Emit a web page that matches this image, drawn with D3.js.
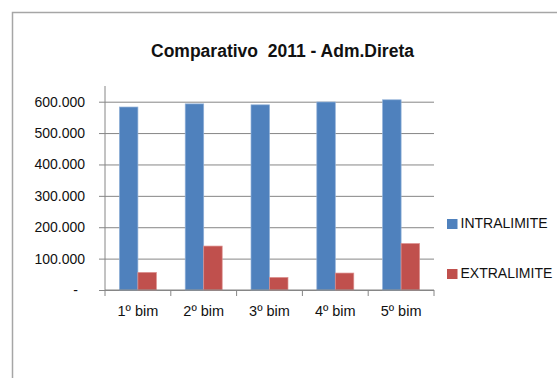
<!DOCTYPE html>
<head>
  <meta charset="utf-8">
  <script src="https://d3js.org/d3.v7.min.js"></script>
  <style>
    body { margin: 0; background: #fff; }
    svg { width: 557px; height: 378px; display: block; }
    text { font-family: "Liberation Sans", Arial, sans-serif; fill: #111; white-space: pre; }
  </style>
</head>
<body>
  <svg></svg>
  <script>
    // data
    var bimestres = ['1º bim', '2º bim', '3º bim', '4º bim', '5º bim'];
    var series = ['INTRALIMITE', 'EXTRALIMITE'];
    var intralimite = [583000, 593000, 590000, 599000, 606000];
    var extralimite = [56000, 140000, 40000, 54000, 148000];
    var yTicks = [0, 100000, 200000, 300000, 400000, 500000, 600000];
    var colors = ['#4F81BD', '#C0504D'];
    var edges = ['#8fb0d8', '#dc8f8d'];

    var svg = d3.select('svg');

    // outer chart border (runs off the right and bottom edges)
    svg.append('path')
      .attr('d', 'M12.5,600 L12.5,12.5 L600,12.5')
      .attr('fill', 'none')
      .attr('stroke', '#a6a6a6')
      .attr('stroke-width', 1.5);

    svg.append('text')
      .attr('x', 282.5)
      .attr('y', 56.5)
      .attr('text-anchor', 'middle')
      .style('font-weight', 'bold')
      .style('font-size', '17.5px')
      .text('Comparativo  2011 - Adm.Direta');

    var plotL = 105, plotR = 434, plotT = 86, plotB = 290;

    var x = d3.scaleBand().domain(bimestres).range([plotL, plotR]);
    var xs = d3.scaleBand().domain(series).range([0, x.bandwidth()]).paddingOuter(0.78);
    var y = d3.scaleLinear().domain([0, 650000]).range([plotB, plotT]);

    // gridlines + y labels
    var yAxis = d3.axisLeft(y)
      .tickValues(yTicks)
      .tickSize(-(plotR - plotL))
      .tickPadding(20)
      .tickFormat(function(d) {
        return d === 0 ? '-' : d3.format(',')(d).replace(/,/g, '.');
      });
    var gy = svg.append('g')
      .attr('transform', 'translate(' + plotL + ',0)')
      .call(yAxis);
    gy.select('.domain').remove();
    gy.selectAll('.tick line').attr('stroke', '#868686').attr('x1', -6);
    gy.selectAll('.tick text')
      .style('font-size', '14px')
      .attr('fill', '#111')
      .attr('x', function(d) { return d === 0 ? -27 : -20; });

    // y axis line
    svg.append('line')
      .attr('x1', plotL).attr('x2', plotL)
      .attr('y1', plotT).attr('y2', plotB)
      .attr('stroke', '#868686');

    // bars
    var groups = svg.selectAll('g.grp')
      .data(bimestres).enter().append('g')
      .attr('class', 'grp')
      .attr('transform', function(d) { return 'translate(' + x(d) + ',0)'; });

    groups.selectAll('rect')
      .data(function(d, i) {
        return [
          { s: series[0], v: intralimite[i], c: colors[0], e: edges[0] },
          { s: series[1], v: extralimite[i], c: colors[1], e: edges[1] }
        ];
      }).enter().append('rect')
      .attr('x', function(d) { return xs(d.s); })
      .attr('width', xs.bandwidth())
      .attr('y', function(d) { return y(d.v); })
      .attr('height', function(d) { return plotB - y(d.v); })
      .attr('fill', function(d) { return d.c; })
      .attr('stroke', function(d) { return d.e; })
      .attr('stroke-width', 0.7);

    // x axis baseline and ticks at category boundaries
    svg.append('line')
      .attr('x1', plotL).attr('x2', plotR)
      .attr('y1', plotB).attr('y2', plotB)
      .attr('stroke', '#868686');
    var boundaries = bimestres.map(function(d) { return x(d); }).concat([plotR]);
    svg.selectAll('line.xtick')
      .data(boundaries).enter().append('line')
      .attr('class', 'xtick')
      .attr('x1', function(d) { return d; }).attr('x2', function(d) { return d; })
      .attr('y1', plotB).attr('y2', plotB + 6)
      .attr('stroke', '#868686');

    svg.selectAll('text.xlab')
      .data(bimestres).enter().append('text')
      .attr('class', 'xlab')
      .attr('x', function(d) { return x(d) + x.bandwidth() / 2; })
      .attr('y', 315.5)
      .attr('text-anchor', 'middle')
      .style('font-size', '14.5px')
      .text(function(d) { return d; });

    // legend
    var legend = svg.selectAll('g.leg')
      .data(series).enter().append('g')
      .attr('class', 'leg')
      .attr('transform', function(d, i) { return 'translate(447,' + (219 + i * 50) + ')'; });
    legend.append('rect')
      .attr('width', 10.5).attr('height', 10)
      .attr('fill', function(d, i) { return colors[i]; });
    legend.append('text')
      .attr('x', 13.5).attr('y', 9)
      .style('font-size', '14px')
      .text(function(d) { return d; });
  </script>
</body>
